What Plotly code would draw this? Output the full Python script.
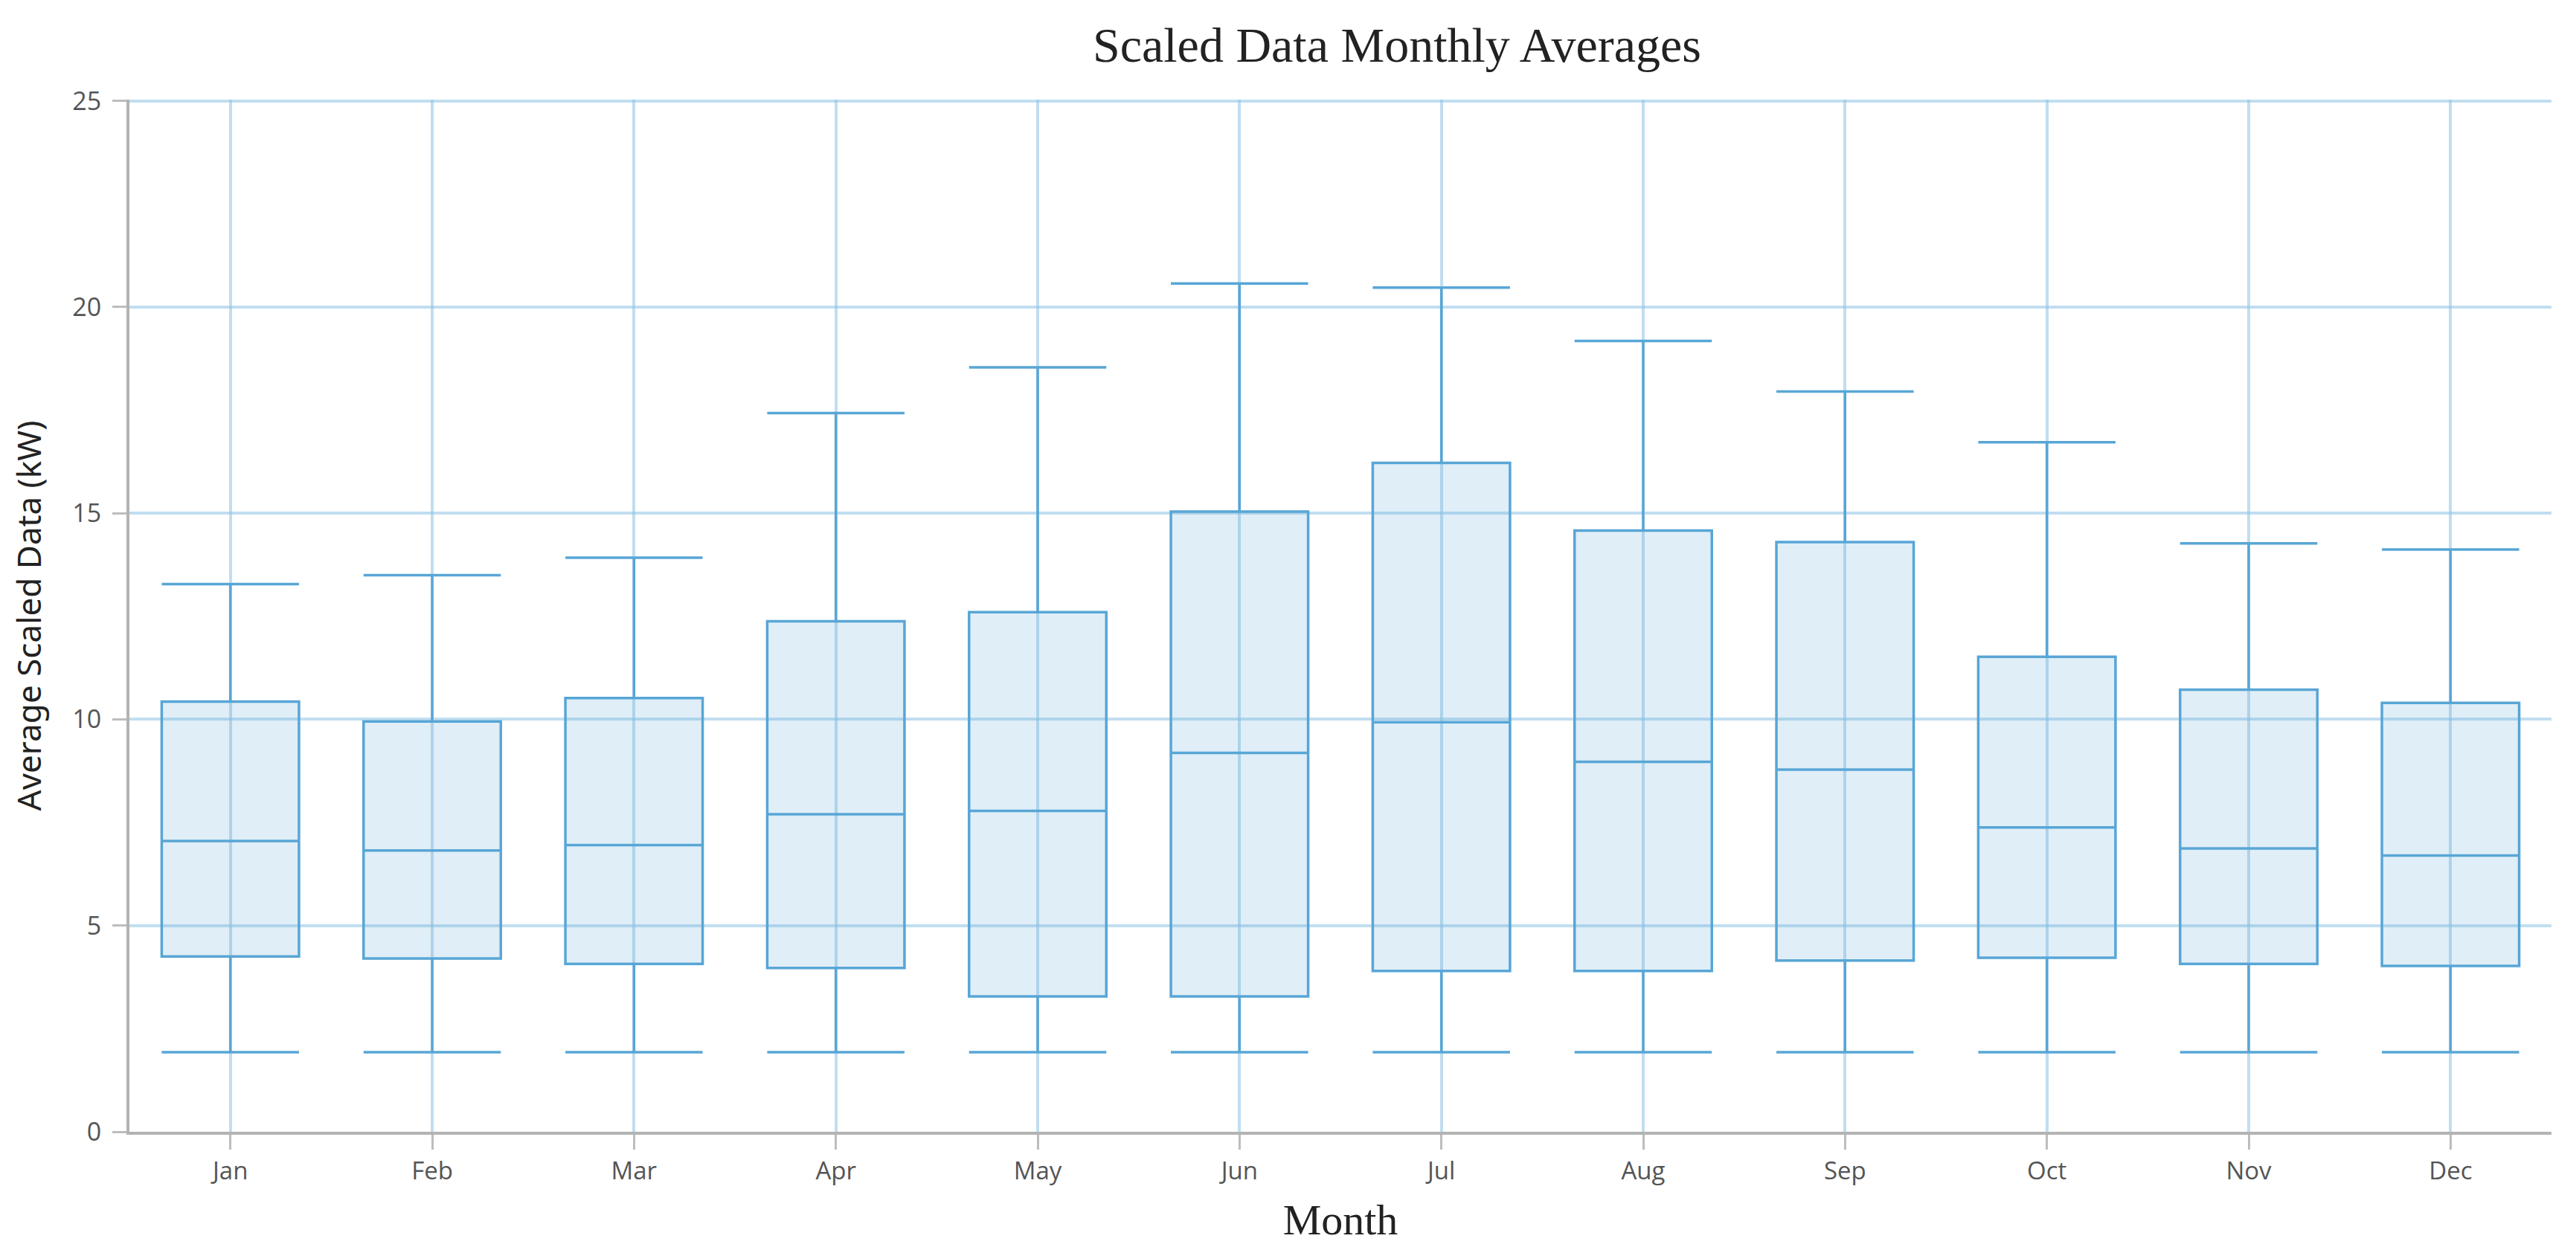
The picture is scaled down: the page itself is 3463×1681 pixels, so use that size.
import plotly.graph_objects as go

months = ["Jan", "Feb", "Mar", "Apr", "May", "Jun", "Jul", "Aug", "Sep", "Oct", "Nov", "Dec"]
lower_whisker = [1.93, 1.93, 1.93, 1.93, 1.93, 1.93, 1.93, 1.93, 1.93, 1.93, 1.93, 1.93]
q1 = [4.25, 4.20, 4.07, 3.97, 3.28, 3.28, 3.90, 3.90, 4.15, 4.22, 4.07, 4.02]
median = [7.05, 6.82, 6.95, 7.70, 7.78, 9.19, 9.93, 8.97, 8.78, 7.38, 6.87, 6.70]
q3 = [10.43, 9.95, 10.52, 12.38, 12.60, 15.04, 16.22, 14.58, 14.30, 11.52, 10.72, 10.40]
upper_whisker = [13.28, 13.50, 13.92, 17.43, 18.54, 20.57, 20.47, 19.18, 17.95, 16.72, 14.27, 14.12]
y_ticks = [0, 5, 10, 15, 20, 25]

fig = go.Figure()
fig.add_trace(go.Box(
    x=months,
    q1=q1,
    median=median,
    q3=q3,
    lowerfence=lower_whisker,
    upperfence=upper_whisker,
    boxpoints=False,
    whiskerwidth=1,
    fillcolor="rgba(100,170,215,0.2)",
    line=dict(color="#58a6d6", width=3.5),
    showlegend=False,
))

grid_color = "rgba(140,195,228,0.55)"
fig.update_layout(
    width=3463,
    height=1681,
    paper_bgcolor="white",
    plot_bgcolor="white",
    margin=dict(l=166, r=41, t=126, b=167),
    boxgap=0.32,
    boxgroupgap=0,
    title=dict(
        text="Scaled Data Monthly Averages",
        font=dict(family="Liberation Serif", size=66, color="#222"),
        x=0.540, xanchor="center", xref="container",
        y=1 - 52 / 1681, yanchor="middle",
    ),
    xaxis=dict(
        title=dict(text="Month", font=dict(family="Liberation Serif", size=58, color="#222"), standoff=26),
        showgrid=True, gridcolor=grid_color, gridwidth=4,
        showline=True, linecolor="#b3b3b3", linewidth=4,
        ticks="outside", ticklen=20, tickwidth=3, tickcolor="#bdbdbd",
        tickfont=dict(family="Open Sans", size=33, color="#555"),
        ticklabelstandoff=0,
        range=[-0.5, 11.5],
    ),
    yaxis=dict(
        title=dict(text="Average Scaled Data (kW)", font=dict(family="Noto Sans", size=44, color="#222"), standoff=34),
        range=[0, 25.03],
        tickvals=y_ticks,
        showgrid=True, gridcolor=grid_color, gridwidth=4,
        zeroline=False,
        showline=True, linecolor="#b3b3b3", linewidth=4,
        ticks="outside", ticklen=19, tickwidth=3, tickcolor="#bdbdbd",
        tickfont=dict(family="Open Sans", size=34, color="#555"),
        ticklabelstandoff=8,
    ),
)

fig.write_html("out.html")
